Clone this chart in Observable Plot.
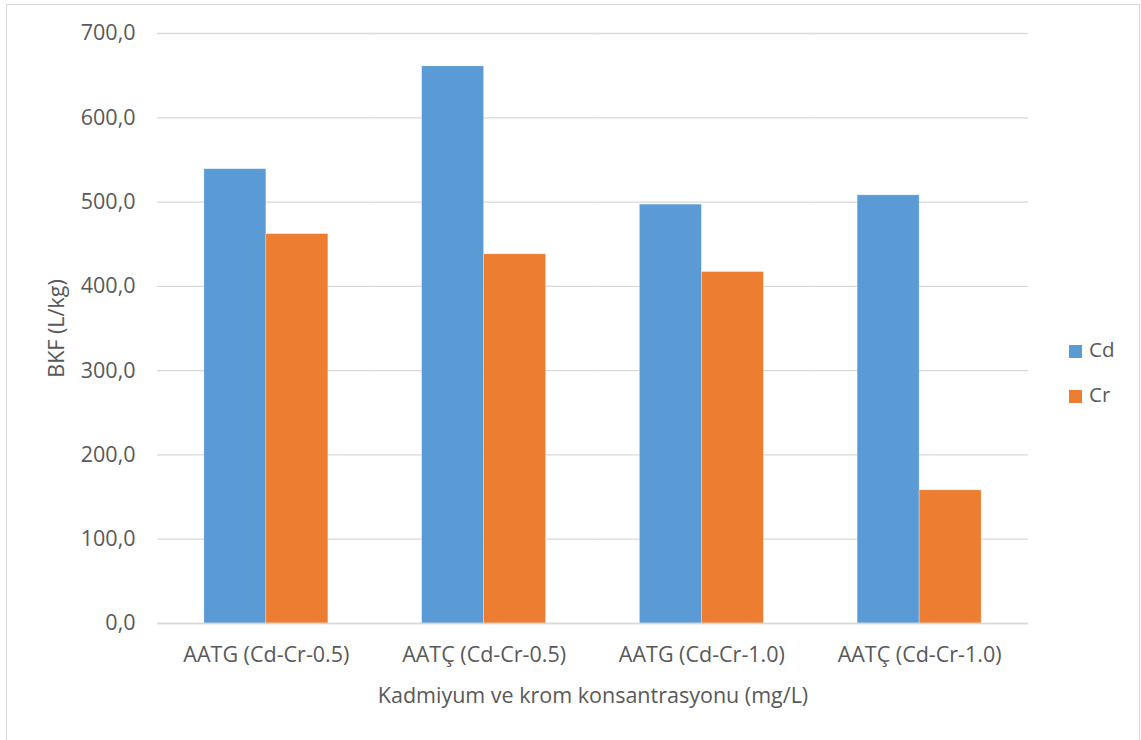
<!DOCTYPE html>
<html>
<head>
<meta charset="utf-8">
<script src="https://cdn.jsdelivr.net/npm/d3@7"></script>
<script src="https://cdn.jsdelivr.net/npm/@observablehq/plot@0.6"></script>
<style>
  html, body { margin: 0; padding: 0; background: #fff; }
  #wrap { position: relative; width: 1141px; height: 740px; overflow: hidden; font-family: "Open Sans", sans-serif; }
  #frame { position: absolute; left: 6px; top: 4px; width: 1134px; height: 740px; border: 1px solid #D9D9D9; box-sizing: border-box; }
  #chart { position: absolute; left: 0; top: 0; }
  #legend { position: absolute; left: 1069px; top: 327px; font-size: 20.5px; color: #595959; line-height: 45px; }
  #legend .sw { display: inline-block; width: 13px; height: 13px; margin-right: 7px; vertical-align: -1px; }
</style>
</head>
<body>
<div id="wrap">
  <div id="frame"></div>
  <div id="chart"></div>
  <div id="legend"></div>
</div>
<script>
const categories = ["AATG (Cd-Cr-0.5)", "AATÇ (Cd-Cr-0.5)", "AATG (Cd-Cr-1.0)", "AATÇ (Cd-Cr-1.0)"];
const seriesNames = ["Cd", "Cr"];
const cdValues = [539, 661, 497, 508];
const crValues = [462, 438, 417, 158];
const seriesColors = ["#5B9BD5", "#ED7D31"];
const yTicks = [0, 100, 200, 300, 400, 500, 600, 700];

const data = [];
categories.forEach((c, i) => {
  data.push({category: c, series: "Cd", value: cdValues[i]});
  data.push({category: c, series: "Cr", value: crValues[i]});
});

const fmt = d => d3.format(".1f")(d).replace(".", ",");
const FS = 21.5;

const chart = Plot.plot({
  width: 1141,
  height: 740,
  marginLeft: 157,
  marginRight: 113,
  marginTop: 33,
  marginBottom: 117,
  style: {fontFamily: "'Open Sans', sans-serif", fontSize: FS + "px", color: "#595959", background: "transparent"},
  fx: {domain: categories, padding: 0, round: false},
  x: {domain: seriesNames, paddingInner: 0, paddingOuter: 0.756, round: false, axis: null},
  y: {domain: [0, 700], ticks: yTicks, tickFormat: fmt},
  color: {domain: seriesNames, range: seriesColors},
  marks: [
    Plot.gridY(yTicks, {stroke: "#D9D9D9", strokeOpacity: 1, strokeWidth: 1.3}),
    Plot.axisY(yTicks, {tickSize: 0, tickPadding: 22, tickFormat: fmt, fontSize: FS, fill: "#595959", label: "BKF (L/kg)", labelAnchor: "center", labelArrow: "none", labelOffset: 109}),
    Plot.axisFx({anchor: "bottom", tickSize: 0, tickPadding: 23, fontSize: FS, fill: "#595959", label: "Kadmiyum ve krom konsantrasyonu (mg/L)", labelAnchor: "center", labelArrow: "none", labelOffset: 79}),
    Plot.barY(data, {fx: "category", x: "series", y: "value", fill: "series", stroke: "#fff", strokeOpacity: 0.5, strokeWidth: 0.6}),
    Plot.ruleY([0], {stroke: "#D9D9D9", strokeWidth: 1.3})
  ]
});
document.getElementById("chart").appendChild(chart);

const legend = document.getElementById("legend");
seriesNames.forEach((s, i) => {
  const row = document.createElement("div");
  row.innerHTML = `<span class="sw" style="background:${seriesColors[i]}"></span>${s}`;
  legend.appendChild(row);
});
</script>
</body>
</html>
